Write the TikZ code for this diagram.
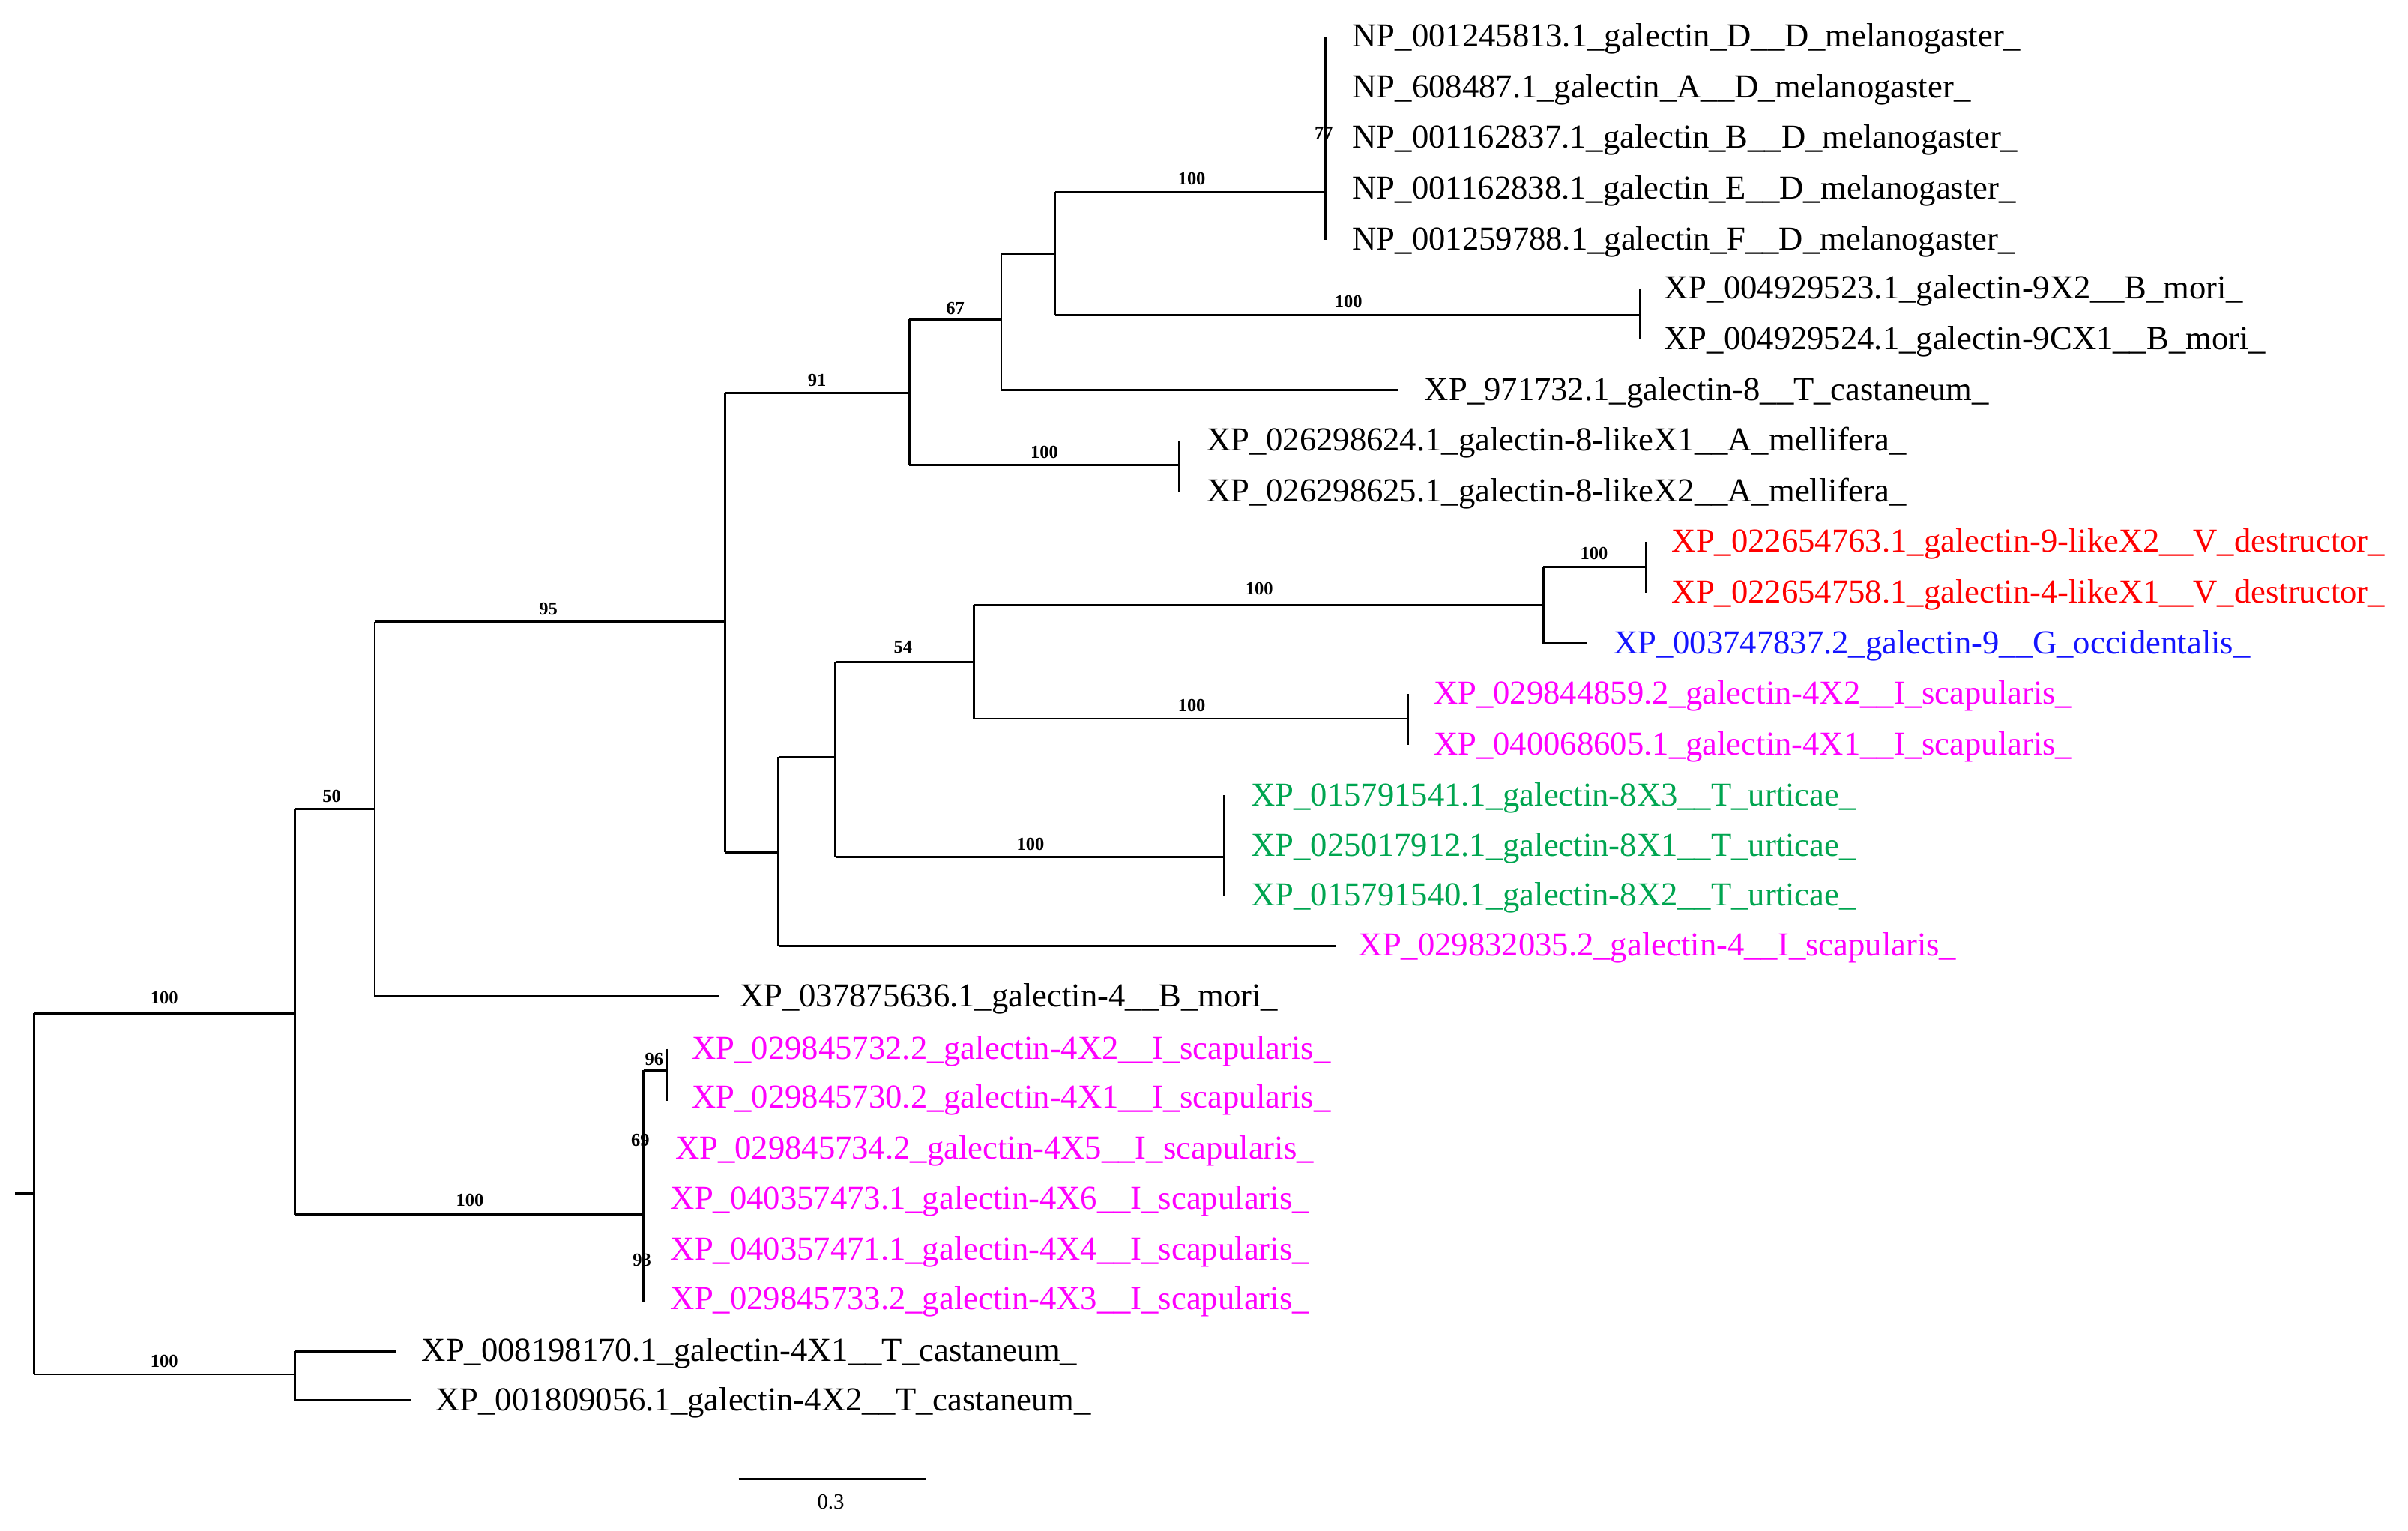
\documentclass[tikz,border=0pt]{standalone}
\usepackage{fontspec}
\setmainfont{Liberation Serif}
\begin{document}
\begin{tikzpicture}[x=0.05cm,y=-0.05cm,line width=2pt,
  lf/.style={anchor=west,font=\fontsize{31}{33}\selectfont,inner sep=0pt,yshift=-2pt},
  bs/.style={anchor=south,font=\fontsize{17}{18}\selectfont\bfseries,inner sep=1pt},
  br/.style={draw=black}]
\definecolor{rd}{RGB}{255,0,0}\definecolor{bl}{RGB}{20,20,255}
\definecolor{mg}{RGB}{255,0,255}\definecolor{gr}{RGB}{0,165,80}
\useasboundingbox (0,0) rectangle (1568,997);
% leaves
\node[lf] (l1) at (880,24) {NP\_001245813.1\_galectin\_D\_\_D\_melanogaster\_};
\node[lf] (l2) at (880,57) {NP\_608487.1\_galectin\_A\_\_D\_melanogaster\_};
\node[lf] (l3) at (880,90) {NP\_001162837.1\_galectin\_B\_\_D\_melanogaster\_};
\node[lf] (l4) at (880,123) {NP\_001162838.1\_galectin\_E\_\_D\_melanogaster\_};
\node[lf] (l5) at (880,156) {NP\_001259788.1\_galectin\_F\_\_D\_melanogaster\_};
\node[lf] (l6) at (1083,188) {XP\_004929523.1\_galectin-9X2\_\_B\_mori\_};
\node[lf] (l7) at (1083,221) {XP\_004929524.1\_galectin-9CX1\_\_B\_mori\_};
\node[lf] (l8) at (927,254) {XP\_971732.1\_galectin-8\_\_T\_castaneum\_};
\node[lf] (l9) at (785,287) {XP\_026298624.1\_galectin-8-likeX1\_\_A\_mellifera\_};
\node[lf] (l10) at (785,320) {XP\_026298625.1\_galectin-8-likeX2\_\_A\_mellifera\_};
\node[lf,text=rd] (l11) at (1088,353) {XP\_022654763.1\_galectin-9-likeX2\_\_V\_destructor\_};
\node[lf,text=rd] (l12) at (1088,386) {XP\_022654758.1\_galectin-4-likeX1\_\_V\_destructor\_};
\node[lf,text=bl] (l13) at (1050,419) {XP\_003747837.2\_galectin-9\_\_G\_occidentalis\_};
\node[lf,text=mg] (l14) at (933,452) {XP\_029844859.2\_galectin-4X2\_\_I\_scapularis\_};
\node[lf,text=mg] (l15) at (933,485) {XP\_040068605.1\_galectin-4X1\_\_I\_scapularis\_};
\node[lf,text=gr] (l16) at (814,518) {XP\_015791541.1\_galectin-8X3\_\_T\_urticae\_};
\node[lf,text=gr] (l17) at (814,551) {XP\_025017912.1\_galectin-8X1\_\_T\_urticae\_};
\node[lf,text=gr] (l18) at (814,583) {XP\_015791540.1\_galectin-8X2\_\_T\_urticae\_};
\node[lf,text=mg] (l19) at (884,616) {XP\_029832035.2\_galectin-4\_\_I\_scapularis\_};
\node[lf] (l20) at (481,649) {XP\_037875636.1\_galectin-4\_\_B\_mori\_};
\node[lf,text=mg] (l21) at (450,683) {XP\_029845732.2\_galectin-4X2\_\_I\_scapularis\_};
\node[lf,text=mg] (l22) at (450,715) {XP\_029845730.2\_galectin-4X1\_\_I\_scapularis\_};
\node[lf,text=mg] (l23) at (439,748) {XP\_029845734.2\_galectin-4X5\_\_I\_scapularis\_};
\node[lf,text=mg] (l24) at (436,781) {XP\_040357473.1\_galectin-4X6\_\_I\_scapularis\_};
\node[lf,text=mg] (l25) at (436,814) {XP\_040357471.1\_galectin-4X4\_\_I\_scapularis\_};
\node[lf,text=mg] (l26) at (436,846) {XP\_029845733.2\_galectin-4X3\_\_I\_scapularis\_};
\node[lf] (l27) at (274,880) {XP\_008198170.1\_galectin-4X1\_\_T\_castaneum\_};
\node[lf] (l28) at (283,912) {XP\_001809056.1\_galectin-4X2\_\_T\_castaneum\_};
% tree
\draw (10,777) -- (22,777);
\draw (22,660) -- (22,895);
\draw (22,660) -- (192,660) (192,527) -- (192,791);
\draw (192,527) -- (244,527) (244,405) -- (244,649);
\draw (244,405) -- (472,405) (472,256) -- (472,555);
\draw (472,256) -- (592,256) (592,208) -- (592,303);
\draw (592,208) -- (652,208) (652,165) -- (652,254);
\draw (652,165) -- (687,165) (687,125) -- (687,205);
\draw (687,125) -- (863,125) (863,24) -- (863,156);
\draw (687,205) -- (1068,205) (1068,188) -- (1068,221);
\draw (652,254) -- (910,254);
\draw (592,303) -- (768,303) (768,287) -- (768,320);
\draw (472,555) -- (507,555) (507,493) -- (507,616);
\draw (507,493) -- (544,493) (544,431) -- (544,558);
\draw (544,431) -- (634,431) (634,394) -- (634,468);
\draw (634,394) -- (1005,394) (1005,369) -- (1005,419);
\draw (1005,369) -- (1072,369) (1072,353) -- (1072,386);
\draw (1005,419) -- (1033,419);
\draw (634,468) -- (917,468) (917,452) -- (917,485);
\draw (544,558) -- (797,558) (797,518) -- (797,583);
\draw (507,616) -- (870,616);
\draw (244,649) -- (468,649);
\draw (192,791) -- (419,791) (419,697) -- (419,848);
\draw (419,697) -- (434,697) (434,683) -- (434,717);
\draw (22,895) -- (192,895) (192,880) -- (192,912);
\draw (192,880) -- (258,880) (192,912) -- (268,912);
% bootstrap labels
\node[bs] at (107,655) {100};
\node[bs] at (216,524) {50};
\node[bs] at (357,402) {95};
\node[bs] at (532,253) {91};
\node[bs] at (622,206) {67};
\node[bs] at (776,122) {100};
\node[bs] at (862,92) {77};
\node[bs] at (878,202) {100};
\node[bs] at (680,300) {100};
\node[bs] at (588,427) {54};
\node[bs] at (820,389) {100};
\node[bs] at (1038,366) {100};
\node[bs] at (776,465) {100};
\node[bs] at (671,555) {100};
\node[bs] at (306,787) {100};
\node[bs] at (426,695) {96};
\node[bs] at (417,748) {69};
\node[bs] at (418,826) {93};
\node[bs] at (107,892) {100};
% scale bar
\draw (481,963) -- (603,963);
\node[font=\fontsize{20}{22}\selectfont] (sc) at (541,978) {0.3};
\end{tikzpicture}
\end{document}
